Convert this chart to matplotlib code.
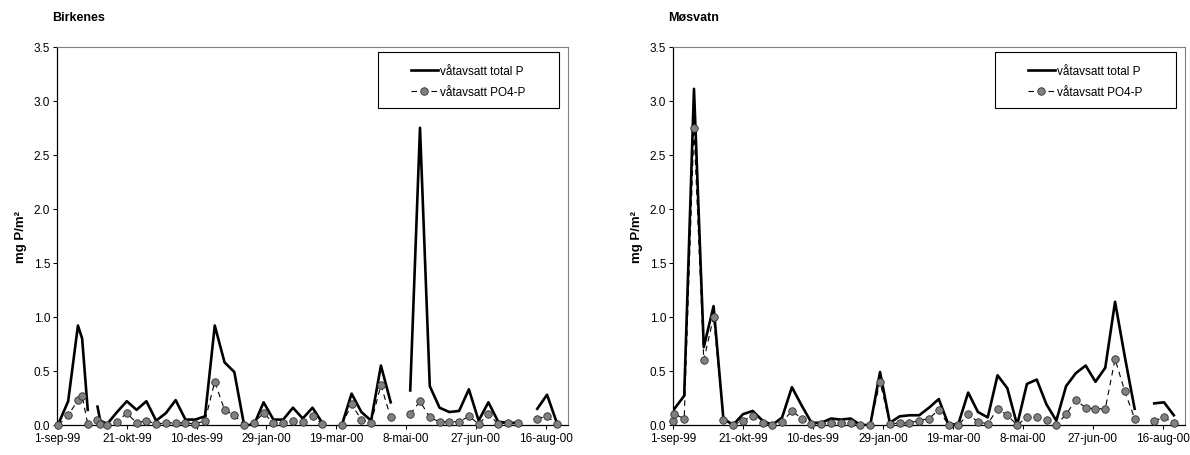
import numpy as np
import matplotlib
matplotlib.use("Agg")
import matplotlib.pyplot as plt
from matplotlib.patches import Rectangle

plt.rcParams['font.family'] = ['Liberation Sans', 'DejaVu Sans']

# days after 1-sep-99, nan = missing sample
birk_days = [1, 8, 15, 18, 22, 25, 29, 31, 36, 43, 50, 57, 64, 71, 78, 85, 92, 99, 106,
             113, 120, 127, 134, 141, 148, 155, 162, 169, 176, 183, 190, 197, 204, 211,
             218, 225, 232, 239, 246, 253, 260, 267, 274, 281, 288, 295, 302, 309, 316,
             323, 330, 337, 344, 351, 358]
birk_tot = [0.01, 0.22, 0.92, 0.80, 0.14, np.nan, 0.17, 0.04, 0.01, 0.12, 0.22, 0.14, 0.22,
            0.04, 0.11, 0.23, 0.05, 0.05, 0.08, 0.92, 0.58, 0.49, 0.00, 0.00, 0.21, 0.05,
            0.05, 0.16, 0.06, 0.16, 0.02, np.nan, 0.00, 0.29, 0.12, 0.04, 0.55, 0.21,
            np.nan, 0.32, 2.75, 0.36, 0.16, 0.12, 0.13, 0.33, 0.04, 0.21, 0.03, 0.02,
            0.02, np.nan, 0.15, 0.28, 0.02]
birk_po4 = [0.00, 0.09, 0.23, 0.27, 0.01, np.nan, 0.05, 0.01, 0.00, 0.03, 0.11, 0.02, 0.04,
            0.01, 0.02, 0.02, 0.02, 0.01, 0.04, 0.40, 0.14, 0.09, 0.00, 0.02, 0.11, 0.02,
            0.02, 0.04, 0.03, 0.08, 0.01, np.nan, 0.00, 0.19, 0.05, 0.02, 0.37, 0.07,
            np.nan, 0.10, 0.22, 0.07, 0.03, 0.03, 0.03, 0.08, 0.01, 0.10, 0.01, 0.02,
            0.02, np.nan, 0.06, 0.08, 0.01]

mos_days = [0, 1, 8, 15, 22, 29, 36, 43, 50, 57, 64, 71, 78, 85, 92, 99, 106, 113, 120,
            127, 134, 141, 148, 155, 162, 169, 176, 183, 190, 197, 204, 211, 218, 225,
            232, 239, 246, 253, 260, 267, 274, 281, 288, 295, 302, 309, 316, 323, 330,
            337, 344, 351, 358]
mos_tot = [0.13, 0.15, 0.27, 3.11, 0.72, 1.10, 0.06, 0.00, 0.10, 0.13, 0.04, 0.00, 0.07,
           0.35, 0.18, 0.02, 0.02, 0.06, 0.05, 0.06, 0.00, 0.00, 0.49, 0.02, 0.08, 0.09,
           0.09, 0.16, 0.24, 0.00, 0.01, 0.30, 0.12, 0.07, 0.46, 0.34, 0.00, 0.38, 0.42,
           0.19, 0.04, 0.36, 0.48, 0.55, 0.40, 0.53, 1.14, 0.63, 0.15, np.nan, 0.20,
           0.21, 0.09]
mos_po4 = [0.04, 0.10, 0.06, 2.75, 0.60, 1.00, 0.05, 0.00, 0.04, 0.08, 0.02, 0.00, 0.03,
           0.13, 0.06, 0.01, 0.01, 0.02, 0.02, 0.02, 0.00, 0.00, 0.40, 0.01, 0.02, 0.02,
           0.04, 0.06, 0.14, 0.00, 0.00, 0.10, 0.03, 0.01, 0.15, 0.09, 0.00, 0.07, 0.07,
           0.05, 0.00, 0.10, 0.23, 0.16, 0.15, 0.15, 0.61, 0.31, 0.06, np.nan, 0.04,
           0.07, 0.02]

tick_labels = ['1-sep-99', '21-okt-99', '10-des-99', '29-jan-00', '19-mar-00',
               '8-mai-00', '27-jun-00', '16-aug-00']
panels = [('Birkenes', birk_days, birk_tot, birk_po4),
          ('Møsvatn', mos_days, mos_tot, mos_po4)]

W, H = 1190, 456
fig = plt.figure(figsize=(W / 100, H / 100), dpi=100)
boxes = [(57, 568), (673, 1185)]
top, bottom = 47.7, 426

for (name, days, tot, po4), (x0, x1) in zip(panels, boxes):
    ax = fig.add_axes([x0 / W, 1 - bottom / H, (x1 - x0) / W, (bottom - top) / H])
    ax.plot(days, tot, color='black', lw=1.9, label='våtavsatt total P', zorder=3)
    ax.plot(days, po4, color='black', lw=0.8, ls=(0, (5, 4)), marker='o', ms=5.4,
            mfc='#808080', mec='#303030', mew=0.6, label='våtavsatt PO4-P',
            zorder=4, clip_on=False)
    ax.set_xlim(0, 366)
    ax.set_ylim(0, 3.5)
    ax.set_xticks(np.arange(0, 351, 50))
    ax.set_xticklabels(tick_labels)
    ax.set_yticks(np.arange(0, 3.51, 0.5))
    ax.set_yticklabels([f'{v:.1f}' for v in np.arange(0, 3.51, 0.5)])
    ax.tick_params(labelsize=8.5, length=3, width=0.75, pad=2)
    for s in ['left', 'bottom']:
        ax.spines[s].set_color('black')
        ax.spines[s].set_linewidth(0.9)
    for s in ['top', 'right']:
        ax.spines[s].set_color('#808080')
        ax.spines[s].set_linewidth(0.8)
    ax.set_ylabel('mg P/m²', fontsize=9.5, fontweight='bold', labelpad=5)
    fig.text((x0 - 5) / W, 1 - 18 / H, name, fontsize=9, fontweight='bold',
             ha='left', va='center')
    # legend frame like the spreadsheet one
    ax.add_patch(Rectangle((0.628, 0.838), 0.354, 0.148, transform=ax.transAxes,
                           fill=True, fc='white', ec='black', lw=0.8, zorder=5))
    leg = ax.legend(loc='center', bbox_to_anchor=(0.805, 0.908), frameon=False,
                    fontsize=8.5, handlelength=2.3, handletextpad=0.2, labelspacing=0.8,
                    borderaxespad=0)
    leg.set_zorder(6)

fig.savefig('out.png', dpi=100)
